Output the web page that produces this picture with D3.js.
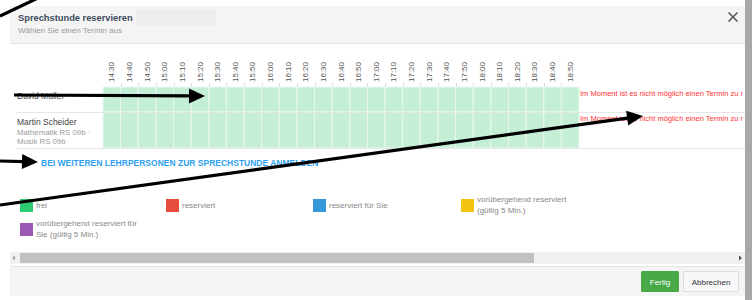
<!DOCTYPE html>
<html><head><meta charset="utf-8">
<script src="https://cdn.jsdelivr.net/npm/d3@7/dist/d3.min.js"></script>
<style>
html,body{margin:0;padding:0;background:#fff;}
svg{display:block;font-family:"Liberation Sans",Arial,sans-serif;}
</style></head>
<body>
<svg id="c" width="752" height="300"></svg>
<script>
// ---- data ----
const times = ["14:30","14:40","14:50","15:00","15:10","15:20","15:30","15:40","15:50","16:00","16:10","16:20","16:30","16:40","16:50","17:00","17:10","17:20","17:30","17:40","17:50","18:00","18:10","18:20","18:30","18:40","18:50"];
const teachers = ["David Müller","Martin Scheider"];
const subjects = [[],["Mathematik RS 09b ·","Musik RS 09b"]];
const slotsDavid = ["frei","frei","frei","frei","frei","frei","frei","frei","frei","frei","frei","frei","frei","frei","frei","frei","frei","frei","frei","frei","frei","frei","frei","frei","frei","frei","frei"];
const slotsMartin = ["frei","frei","frei","frei","frei","frei","frei","frei","frei","frei","frei","frei","frei","frei","frei","frei","frei","frei","frei","frei","frei","frei","frei","frei","frei","frei","frei"];
const rowMessages = ["Im Moment ist es nicht möglich einen Termin zu r","Im Moment ist es nicht möglich einen Termin zu r"];
const legendKeys = ["frei","reserviert","reserviert für Sie","vorübergehend reserviert","vorübergehend reserviert für Sie"];
const legendLines = [["frei"],["reserviert"],["reserviert für Sie"],["vorübergehend reserviert","(gültig 5 Min.)"],["vorübergehend reserviert für","Sie (gültig 5 Min.)"]];
const legendColors = ["#2ecc71","#e74c3c","#3498db","#f1c40f","#9b59b6"];
const cellColors = {"frei":"#c4efd6","reserviert":"#f5c2bd","reserviert für Sie":"#bcdcf3","vorübergehend reserviert":"#fbecb0","vorübergehend reserviert für Sie":"#dcc6e6"};
// annotation arrows [x1,y1,x2,y2,head]
const arrows = [[0,16,38,-2,0],[14,95,205,96,1],[0,161,38,162,1],[0,205,643,116,1]];

const svg = d3.select("#c");
// ---- dialog frame ----
svg.append("rect").attr("x",745).attr("y",0).attr("width",7).attr("height",300).attr("fill","#a8a8a8");
svg.append("rect").attr("x",10).attr("y",6).attr("width",735).attr("height",290).attr("fill","#fff");
svg.append("rect").attr("x",10).attr("y",6).attr("width",735).attr("height",37).attr("fill","#f4f4f4");
svg.append("line").attr("x1",10).attr("x2",745).attr("y1",43.5).attr("y2",43.5).attr("stroke","#e3e3e3");
svg.append("text").attr("x",18).attr("y",21).attr("font-size",9.3).attr("font-weight","bold").attr("fill","#3d4a5c").text("Sprechstunde reservieren");
svg.append("rect").attr("x",136).attr("y",10).attr("width",80).attr("height",16).attr("rx",2).attr("fill","#ededed");
svg.append("text").attr("x",18).attr("y",33).attr("font-size",8).attr("fill","#999").text("Wählen Sie einen Termin aus");
svg.append("path").attr("d","M728.5,12.5L737.5,21.5M737.5,12.5L728.5,21.5").attr("stroke","#555").attr("stroke-width",1.5);

// ---- grid scales ----
const x = d3.scaleBand().domain(times).range([103,579]);
const yTop = d3.scaleOrdinal().domain(teachers).range([87,112]);
const yH = d3.scaleOrdinal().domain(teachers).range([25,36]);
const slots = [slotsDavid, slotsMartin];

// axis labels
const ax = svg.append("g").attr("transform","translate(0,82)")
  .call(d3.axisTop(x).tickSize(0).tickPadding(0));
ax.select(".domain").remove();
ax.selectAll("text").attr("transform","rotate(-90)").attr("x",0).attr("y",0).attr("dy","0.32em")
  .attr("text-anchor","start").attr("font-size",8).attr("fill","#555").attr("font-family","Liberation Sans, Arial, sans-serif");
// header tick marks at boundaries
svg.append("g").selectAll("line").data(times.slice(1)).join("line")
  .attr("x1",d=>Math.round(x(d))+0.5).attr("x2",d=>Math.round(x(d))+0.5).attr("y1",83).attr("y2",87).attr("stroke","#ddd");

// cells
teachers.forEach((t,i)=>{
  svg.append("g").selectAll("rect").data(times.map((tm,j)=>({tm,s:slots[i][j]}))).join("rect")
    .attr("x",d=>x(d.tm)).attr("y",yTop(t)).attr("width",x.bandwidth()).attr("height",yH(t))
    .attr("fill",d=>cellColors[d.s]).attr("stroke","#e9f8ef").attr("stroke-width",1);
});
// row separators
svg.append("g").selectAll("line").data(teachers).join("line")
  .attr("x1",16).attr("x2",745).attr("y1",d=>yTop(d)+yH(d)+0.5).attr("y2",d=>yTop(d)+yH(d)+0.5)
  .attr("stroke","#e6e6e6");
// names
svg.append("g").selectAll("text").data(teachers).join("text")
  .attr("x",17).attr("y",(d,i)=>i===0?yTop(d)+12:yTop(d)+13).attr("font-size",8.5).attr("fill","#444").text(d=>d);
subjects.forEach((s,i)=>{
  svg.append("g").selectAll("text").data(s).join("text")
    .attr("x",17).attr("y",(d,k)=>yTop(teachers[i])+23+k*9).attr("font-size",7.8).attr("fill","#999").text(d=>d);
});
// messages (cut at the dialog edge, as in the screenshot)
svg.append("g").selectAll("text").data(rowMessages).join("text")
  .attr("x",580).attr("y",(d,i)=>yTop(teachers[i])+9).attr("font-size",7.6).attr("fill","#f33")
  .attr("textLength",163).attr("lengthAdjust","spacingAndGlyphs").text(d=>d);

// link
svg.append("text").attr("x",41).attr("y",166).attr("font-size",8.5).attr("font-weight","bold").attr("fill","#2f9ff0")
  .text("BEI WEITEREN LEHRPERSONEN ZUR SPRECHSTUNDE ANMELDEN");

// legend
const legX = d3.scaleOrdinal().domain(legendKeys).range([20,166,313,461,20]);
const legY = d3.scaleOrdinal().domain(legendKeys).range([199,199,199,199,223]);
const lg = svg.append("g").selectAll("g").data(legendKeys).join("g")
  .attr("transform",d=>`translate(${legX(d)},${legY(d)})`);
lg.append("rect").attr("width",13).attr("height",13).attr("fill",(d,i)=>legendColors[i]);
lg.each(function(d,i){
  const L = legendLines[i];
  d3.select(this).selectAll("text").data(L).join("text")
    .attr("x",16).attr("y",(s,k)=> L.length===1?9:(3+k*10.5)).attr("font-size",8).attr("fill","#888").text(s=>s);
});

// scrollbar
svg.append("rect").attr("x",10).attr("y",252).attr("width",735).attr("height",12).attr("fill","#f1f1f1");
svg.append("rect").attr("x",20).attr("y",253).attr("width",514).attr("height",10).attr("fill","#c1c1c1");
svg.append("path").attr("d","M12,258L15,255.5L15,260.5Z").attr("fill","#a3a3a3");
svg.append("path").attr("d","M742,258L739,255.5L739,260.5Z").attr("fill","#505050");

// footer
svg.append("rect").attr("x",10).attr("y",267).attr("width",735).attr("height",29).attr("fill","#f4f4f4");
svg.append("line").attr("x1",10).attr("x2",745).attr("y1",266.5).attr("y2",266.5).attr("stroke","#e5e5e5");
svg.append("rect").attr("x",641).attr("y",271).attr("width",38).attr("height",21).attr("rx",1.5).attr("fill","#47a947");
svg.append("text").attr("x",660).attr("y",284.5).attr("text-anchor","middle").attr("font-size",8).attr("fill","#fff").text("Fertig");
svg.append("rect").attr("x",683.5).attr("y",271.5).attr("width",55).attr("height",20).attr("rx",1.5).attr("fill","#f8f8fa").attr("stroke","#ddd");
svg.append("text").attr("x",711).attr("y",284.5).attr("text-anchor","middle").attr("font-size",8).attr("fill","#333").text("Abbrechen");

// annotation arrows
const ag = svg.append("g");
arrows.forEach(a=>{
  const [x1,y1,x2,y2,h]=a;
  const ang=Math.atan2(y2-y1,x2-x1), L=16, W=7.5;
  const bx=x2-L*Math.cos(ang), by=y2-L*Math.sin(ang);
  ag.append("line").attr("x1",x1).attr("y1",y1).attr("x2",h?bx+2*Math.cos(ang):x2).attr("y2",h?by+2*Math.sin(ang):y2)
    .attr("stroke","#000").attr("stroke-width",3.2);
  if(h){
    const px=-Math.sin(ang)*W, py=Math.cos(ang)*W;
    ag.append("path").attr("d",`M${x2},${y2}L${bx+px},${by+py}L${bx-px},${by-py}Z`).attr("fill","#000");
  }
});
</script>
</body></html>
